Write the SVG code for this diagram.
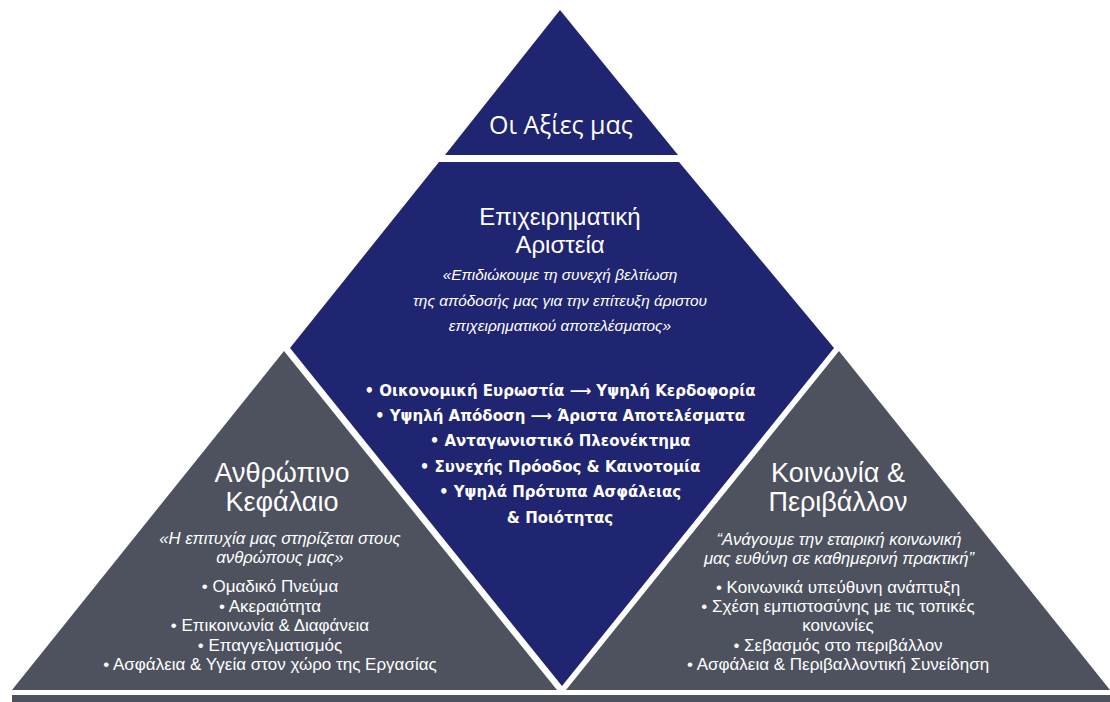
<svg xmlns="http://www.w3.org/2000/svg" width="1110" height="702" viewBox="0 0 1110 702">
  <style>
    .blue { fill: #1f2570; }
    .gray { fill: #4d525e; }
    .title { font-family: "Liberation Sans", Arial, sans-serif; fill: #ffffff; text-anchor: middle; }
    .quote { font-family: "Liberation Sans", Arial, sans-serif; font-style: italic; fill: #ffffff; text-anchor: middle; font-size: 16.7px; }
    .cquote { font-family: "Liberation Sans", Arial, sans-serif; font-style: italic; fill: #ffffff; text-anchor: middle; font-size: 15.4px; }
    .item { font-family: "Liberation Sans", Arial, sans-serif; fill: #ffffff; text-anchor: middle; font-size: 17px; }
    .bold { font-family: "DejaVu Sans", Verdana, sans-serif; font-weight: bold; fill: #ffffff; text-anchor: middle; font-size: 15px; }
  </style>
  <rect width="1110" height="702" fill="#ffffff"/>

  <!-- base bar -->
  <rect class="gray" x="12" y="695" width="1098" height="7"/>

  <!-- left pillar: human capital -->
  <g id="human-capital">
    <polygon class="gray" points="284,351 12,690 557,690"/>
    <text class="title" font-size="27" x="282" y="482">Ανθρώπινο</text>
    <text class="title" font-size="27" x="282" y="511">Κεφάλαιο</text>
    <text class="quote" x="280" y="544">«Η επιτυχία μας στηρίζεται στους</text>
    <text class="quote" x="280" y="563">ανθρώπους μας»</text>
    <text class="item" x="270" y="592">• Ομαδικό Πνεύμα</text>
    <text class="item" x="270" y="612">• Ακεραιότητα</text>
    <text class="item" x="270" y="631">• Επικοινωνία &amp; Διαφάνεια</text>
    <text class="item" x="270" y="651">• Επαγγελματισμός</text>
    <text class="item" x="270" y="670">• Ασφάλεια &amp; Υγεία στον χώρο της Εργασίας</text>
  </g>

  <!-- right pillar: society and environment -->
  <g id="society-environment">
    <polygon class="gray" points="839,351 566,690 1110,690"/>
    <text class="title" font-size="27" x="838" y="482">Κοινωνία &amp;</text>
    <text class="title" font-size="27" x="838" y="511">Περιβάλλον</text>
    <text class="quote" x="839" y="545">“Ανάγουμε την εταιρική κοινωνική</text>
    <text class="quote" x="839" y="564">μας ευθύνη σε καθημερινή πρακτική”</text>
    <text class="item" x="838" y="593">• Κοινωνικά υπεύθυνη ανάπτυξη</text>
    <text class="item" x="838" y="612">• Σχέση εμπιστοσύνης με τις τοπικές</text>
    <text class="item" x="838" y="631">κοινωνίες</text>
    <text class="item" x="838" y="651">• Σεβασμός στο περιβάλλον</text>
    <text class="item" x="838" y="670">• Ασφάλεια &amp; Περιβαλλοντική Συνείδηση</text>
  </g>

  <!-- centre: business excellence -->
  <g id="business-excellence">
    <polygon class="blue" points="439,162 679,162 834,348 562,686 290,348"/>
    <text class="title" font-size="24" x="560" y="225">Επιχειρηματική</text>
    <text class="title" font-size="24" x="560" y="253">Αριστεία</text>
    <text class="cquote" x="560" y="280">«Επιδιώκουμε τη συνεχή βελτίωση</text>
    <text class="cquote" x="560" y="306">της απόδοσής μας για την επίτευξη άριστου</text>
    <text class="cquote" x="560" y="331">επιχειρηματικού αποτελέσματος»</text>
    <text class="bold" x="560" y="396">•  Οικονομική Ευρωστία ⟶ Υψηλή Κερδοφορία</text>
    <text class="bold" x="560" y="421">• Υψηλή Απόδοση ⟶ Άριστα Αποτελέσματα</text>
    <text class="bold" x="560" y="446">•  Ανταγωνιστικό Πλεονέκτημα</text>
    <text class="bold" x="560" y="472">•  Συνεχής Πρόοδος &amp; Καινοτομία</text>
    <text class="bold" x="560" y="497">•  Υψηλά Πρότυπα Ασφάλειας</text>
    <text class="bold" x="560" y="523">&amp; Ποιότητας</text>
  </g>

  <!-- apex: our values -->
  <g id="our-values">
    <polygon class="blue" points="560,10 445,155 678,155"/>
    <text class="title" style="font-family:'Open Sans',sans-serif" font-size="25" x="561" y="134">Οι Αξίες μας</text>
  </g>
</svg>
